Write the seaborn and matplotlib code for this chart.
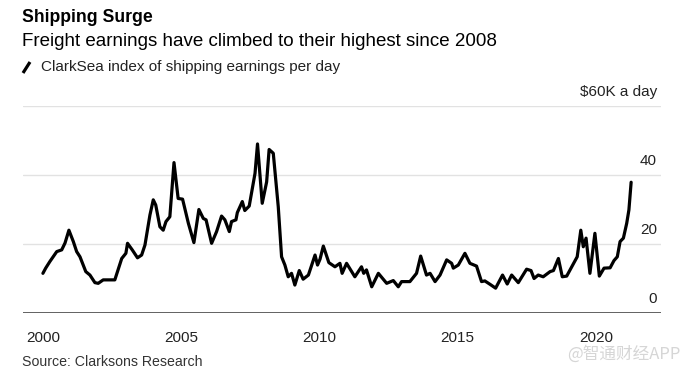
import numpy as np
import pandas as pd
import matplotlib
matplotlib.use("Agg")
import matplotlib.pyplot as plt
import matplotlib.lines as mlines
import seaborn as sns

#data ($K per day)
years = [2000.0, 2000.1, 2000.25, 2000.5, 2000.68, 2000.8, 2000.94, 2001.1, 2001.22, 2001.34,
         2001.55, 2001.7, 2001.88, 2002.0, 2002.18, 2002.6, 2002.85, 2003.0, 2003.06, 2003.23,
         2003.42, 2003.57, 2003.69, 2003.87, 2003.99, 2004.08, 2004.23, 2004.35, 2004.45, 2004.59,
         2004.74, 2004.89, 2005.05, 2005.26, 2005.46, 2005.64, 2005.8, 2005.9, 2006.1, 2006.28,
         2006.46, 2006.58, 2006.74, 2006.82, 2006.98, 2007.03, 2007.21, 2007.3, 2007.46, 2007.67,
         2007.76, 2007.93, 2008.09, 2008.18, 2008.33, 2008.51, 2008.63, 2008.75, 2008.87, 2008.99,
         2009.11, 2009.27, 2009.41, 2009.6, 2009.84, 2009.93, 2010.02, 2010.14, 2010.34, 2010.56,
         2010.74, 2010.82, 2010.98, 2011.28, 2011.52, 2011.6, 2011.7, 2011.89, 2012.13, 2012.43,
         2012.67, 2012.85, 2012.97, 2013.27, 2013.51, 2013.66, 2013.87, 2014.0, 2014.18, 2014.36,
         2014.6, 2014.78, 2014.84, 2015.02, 2015.26, 2015.44, 2015.68, 2015.86, 2015.98, 2016.17,
         2016.37, 2016.62, 2016.79, 2016.95, 2017.19, 2017.49, 2017.65, 2017.76, 2017.91, 2018.09,
         2018.34, 2018.46, 2018.64, 2018.78, 2018.94, 2019.32, 2019.45, 2019.54, 2019.64, 2019.78,
         2019.96, 2020.12, 2020.29, 2020.51, 2020.65, 2020.77, 2020.87, 2020.99, 2021.11, 2021.19,
         2021.27]
earnings = [11.5, 13, 14.9, 17.8, 18.3, 20.3, 24.0, 20.7, 17.8, 16.3,
            12, 11, 8.8, 8.6, 9.6, 9.6, 15.8, 17.3, 20.2, 18.3,
            16, 16.8, 19.7, 28.4, 32.8, 31.3, 25, 24, 26.5, 27.9,
            43.6, 33.2, 33, 26, 20.4, 30, 27.4, 27, 20.2, 23.6,
            28.1, 27, 23.6, 26.5, 27, 29.1, 32.3, 29.7, 31, 40.5,
            49, 31.8, 38, 47.4, 46.3, 30.8, 16.3, 13.9, 10.5, 11.5,
            8.1, 12.3, 9.8, 11, 16.8, 13.9, 15.6, 19.4, 14.6, 13.4,
            14.4, 11.5, 14.4, 10.5, 13.4, 11.5, 12.5, 7.6, 11.5, 8.6,
            9.4, 7.6, 9.1, 9.1, 11.5, 16.5, 11, 11.5, 9.1, 11,
            15.4, 14.4, 13, 13.9, 17.3, 14.4, 13.6, 9.1, 9.3, 8.3,
            7.2, 11, 8.4, 11, 8.8, 12.7, 12.3, 10, 11, 10.5,
            12, 12.3, 15.8, 10.5, 10.7, 16.3, 24, 19.2, 21.7, 11.5,
            23.1, 10.7, 13, 13.1, 15.2, 16.3, 20.7, 21.7, 26, 29.9,
            37.9]
year_ticks = [2000, 2005, 2010, 2015, 2020]
y_ticks = [0, 20, 40, 60]
y_labels = ["0", "20", "40", "$60K a day"]

df = pd.DataFrame({"year": years, "earnings": earnings})

sns.set_style("white")
plt.rcParams['font.family'] = ['Liberation Sans', 'DejaVu Sans']

fig = plt.figure(figsize=(6.86, 3.71), dpi=100)
ax = fig.add_axes([23/686, 1-313/371, (661-23)/686, (313-106)/371])

sns.lineplot(data=df, x="year", y="earnings", ax=ax, color="black", linewidth=2.3)

ax.set_xlim(1999.28, 2022.35)
ax.set_ylim(0, 60)
for v in y_ticks[1:]:
    ax.axhline(v, color="#e2e2e2", linewidth=1, zorder=0)
ax.axhline(0, color="#555555", linewidth=1.3, zorder=1)
for s in ax.spines.values():
    s.set_visible(False)

ax.set_xticks(year_ticks)
ax.set_xticklabels([str(y) for y in year_ticks])
ax.tick_params(axis="x", length=6, width=1, color="#555555", direction="out",
               pad=7, labelsize=11, labelcolor="#222222")
ax.set_yticks([])
ax.set_xlabel("")
ax.set_ylabel("")

#y labels sit above the gridlines at the right
for v, lab in zip(y_ticks, y_labels):
    ax.annotate(lab, xy=(1, v), xycoords=ax.get_yaxis_transform(),
                xytext=(-3, 5), textcoords="offset points",
                ha="right", va="bottom", fontsize=11, color="#222222")

fig.text(22/686, 1-18/371, "Shipping Surge", fontsize=12.7, fontweight="bold",
         va="center", ha="left", color="black")
fig.text(22/686, 1-42/371, "Freight earnings have climbed to their highest since 2008",
         fontsize=13.5, va="center", ha="left", color="black")
fig.add_artist(mlines.Line2D([23/686, 30/686], [1-73/371, 1-62/371],
                             color="black", linewidth=2.3, solid_capstyle="butt"))
fig.text(41/686, 1-67/371, "ClarkSea index of shipping earnings per day",
         fontsize=11, va="center", ha="left", color="#222222")
fig.text(22/686, 1-362/371, "Source: Clarksons Research",
         fontsize=10.2, va="center", ha="left", color="#333333")
fig.text(681/686, 1-354/371, "@智通财经APP", fontsize=12, va="center", ha="right",
         color="#d6d6d6", family=['Noto Sans CJK SC', 'DejaVu Sans'])

fig.savefig("out.png", dpi=100)
